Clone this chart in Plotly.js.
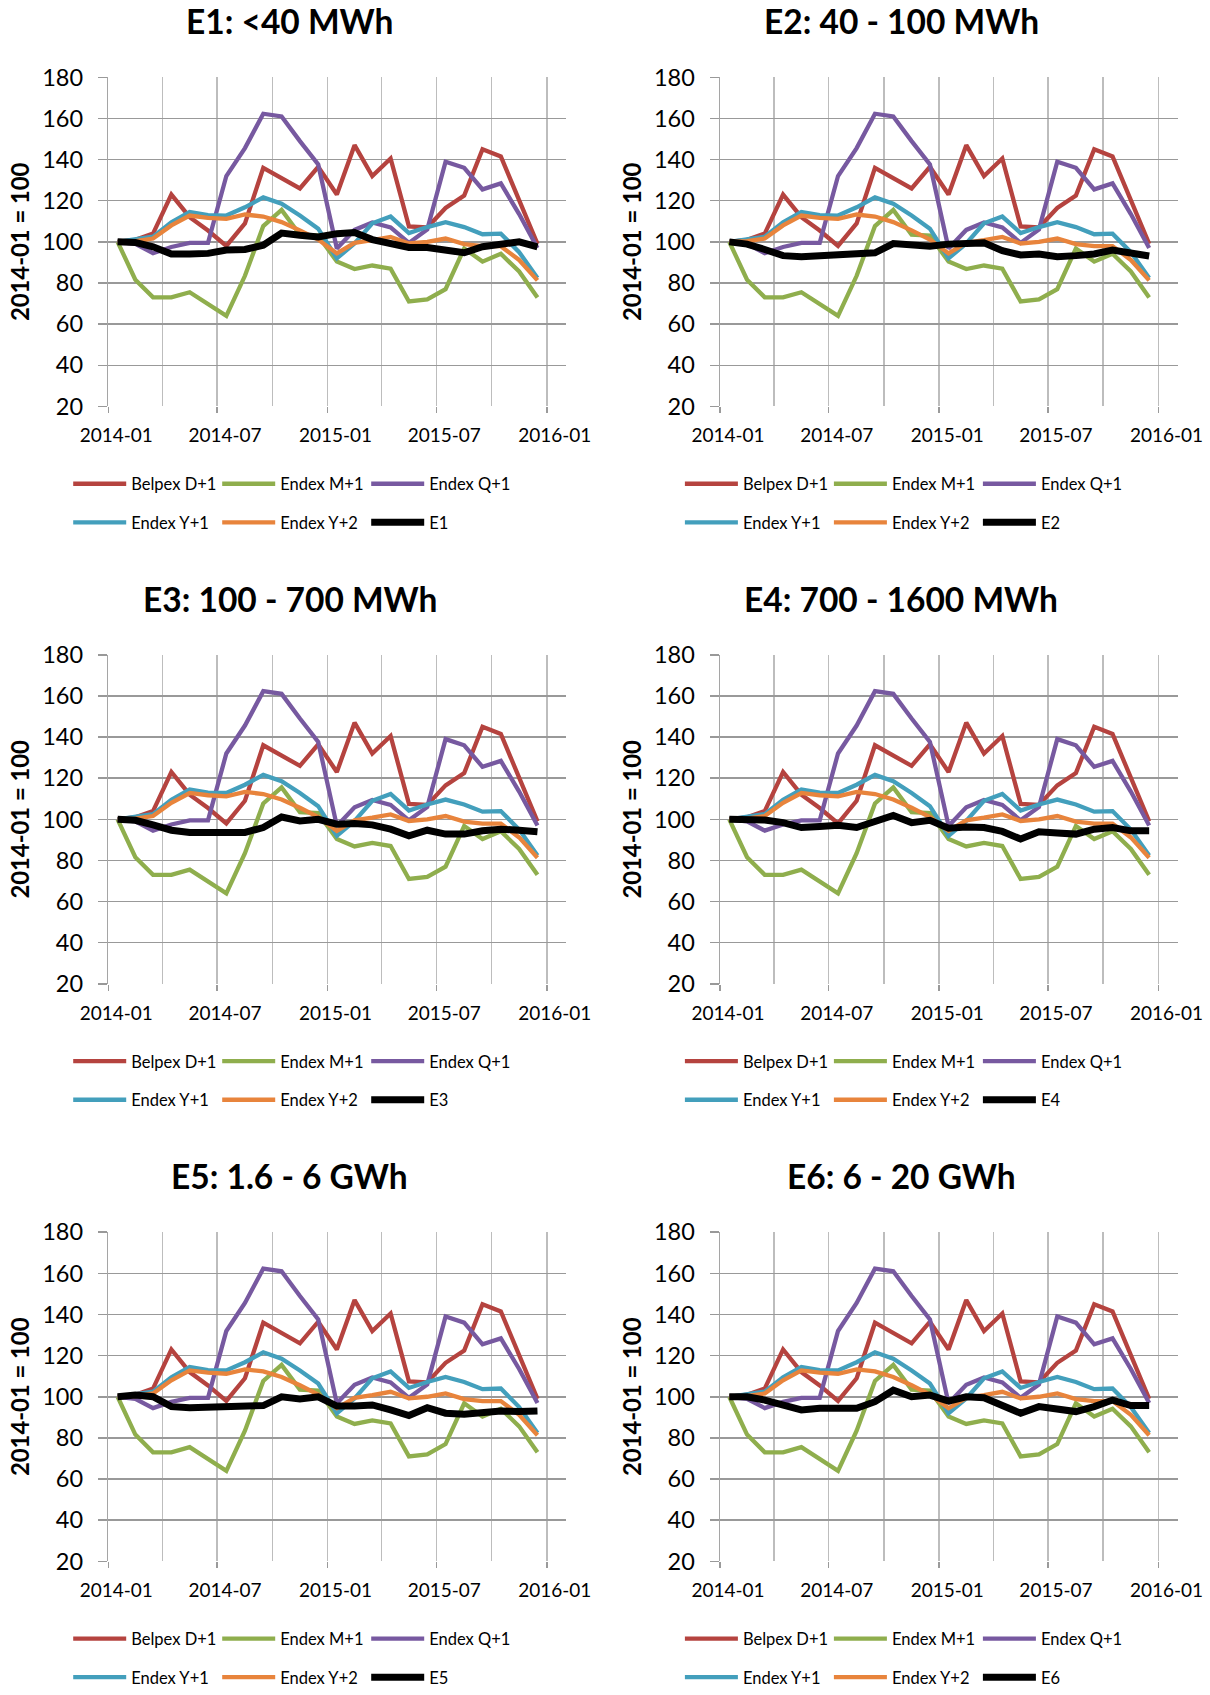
<!DOCTYPE html>
<html><head><meta charset="utf-8">
<script src="https://cdn.plot.ly/plotly-3.0.1.min.js"></script>
<style>html,body{margin:0;padding:0;background:#fff}#chart{width:1210px;height:1695px}</style>
</head><body><div id="chart"></div>
<script>
// ---- data ----
const months = ["2014-01","2014-02","2014-03","2014-04","2014-05","2014-06","2014-07","2014-08","2014-09","2014-10","2014-11","2014-12",
                "2015-01","2015-02","2015-03","2015-04","2015-05","2015-06","2015-07","2015-08","2015-09","2015-10","2015-11","2015-12"];
const belpexD1 = [100,101,104,123,112,105.5,98,109,136,131,126,136.5,123,147,132,140.5,107.5,107,116.5,122.5,145,141.5,120.5,99];
const endexM1  = [100,81.6,73,73,75.5,69.5,64,83.5,107.7,115.5,103.5,103,90.4,86.8,88.5,87,71,72,77,96.8,90.4,94.2,85.6,73];
const endexQ1  = [100,99,94.5,97.5,99.5,99.5,132,145.6,162.3,161,149,137.6,96.8,105.8,109.4,107,99.5,106,139,136,125.5,128.4,113.5,97];
const endexY1  = [100,101,102.5,109.5,114.5,113,112.8,116.8,121.6,118.5,112.8,106.4,92,99.2,109,112.3,104.3,107.2,109.6,107.2,103.7,104,95,82.4];
const endexY2  = [100,100.3,101.6,108,112.8,111.7,111.2,113.3,112.3,109.6,105.6,101.1,94.4,99.5,100.8,102.4,99.2,100,101.6,98.9,97.9,97.9,91.2,81.3];
const segE1 = [100,99.7,97.6,94.1,94.1,94.4,96,96.3,98.4,104.3,103.2,102.4,104,104.5,101.1,98.9,97.3,97.3,96,94.7,97.6,99.2,100,97.6];
const segE2 = [100,98.9,96.3,93.3,92.8,93.1,93.3,93.8,94.7,99.2,98.4,97.9,98.9,99.5,99.5,95.7,93.6,94.1,92.8,93.3,94.1,96,94.9,93.1];
const segE3 = [100,99.5,97.3,94.7,93.6,93.6,94.1,93.6,96,101.1,99.2,100,97.6,97.9,97.3,95.2,92,94.7,92.8,92.8,94.4,95.2,94.7,93.9];
const segE4 = [100,100,99.7,98.4,96,96.5,97.1,96,98.9,101.9,98.4,99.5,95.7,96.3,96,94.1,90.4,93.9,93.3,92.8,95.2,96,94.4,94.4];
const segE5 = [100,100.8,100,95.2,94.7,94.9,95.2,94.7,95.7,100,98.9,100,95.5,95.5,96,93.6,90.9,94.7,92,91.5,92.5,93.1,92.8,93.1];
const segE6 = [100,100,98.4,96,93.6,94.4,94.7,94.4,97.6,103.2,100,100.8,97.9,100,99.5,95.7,92,95.2,93.6,92.8,95.2,98.4,95.7,95.7];

const seriesNames = ["Belpex D+1","Endex M+1","Endex Q+1","Endex Y+1","Endex Y+2"];
const seriesValues = [belpexD1, endexM1, endexQ1, endexY1, endexY2];
const seriesColors = ["#B5433F","#8FAE4D","#7759A0","#439FBC","#E8843C"];
const segmentNames = ["E1","E2","E3","E4","E5","E6"];
const segmentValues = [segE1, segE2, segE3, segE4, segE5, segE6];
const chartTitles = ["E1: &lt;40 MWh","E2: 40 - 100 MWh","E3: 100 - 700 MWh","E4: 700 - 1600 MWh","E5: 1.6 - 6 GWh","E6: 6 - 20 GWh"];
const yAxisTitle = "2014-01 = 100";
const yTicks = [20,40,60,80,100,120,140,160,180];
const xTickDates = ["2014-01-01","2014-07-01","2015-01-01","2015-07-01","2016-01-01"];
const xTickLabels = ["2014-01","2014-07","2015-01","2015-07","2016-01"];

// ---- layout geometry (px) ----
const W = 1210, H = 1695;
const colX0 = [108.3, 720];
const plotW = 457.7;
const rowStep = 584;
const rowTop = [78.2, 78.2 + rowStep, 78.2 + 2 * rowStep];
const plotH = 332.8;
const FONT = "Lato, 'Open Sans', sans-serif";

const data = [];
const layout = {
  width: W, height: H, margin: {l:0, r:0, t:0, b:0},
  paper_bgcolor: "#fff", plot_bgcolor: "#fff",
  font: {family: FONT, color: "#000"},
  showlegend: true,
  annotations: []
};

for (let k = 0; k < 6; k++) {
  const r = Math.floor(k / 2), c = k % 2;
  const ax = k === 0 ? "" : String(k + 1);
  const legA = "legend" + (2*k === 0 ? "" : String(2*k + 1));
  const legB = "legend" + String(2*k + 2);
  seriesNames.forEach((nm, i) => {
    data.push({
      type: "scatter", mode: "lines", name: nm,
      x: months, y: seriesValues[i], xperiod: "M1", xperiodalignment: "middle",
      xaxis: "x" + ax, yaxis: "y" + ax,
      line: {color: seriesColors[i], width: 4.3},
      legend: i < 3 ? legA : legB, hoverinfo: "skip"
    });
  });
  data.push({
    type: "scatter", mode: "lines", name: segmentNames[k],
    x: months, y: segmentValues[k], xperiod: "M1", xperiodalignment: "middle",
    xaxis: "x" + ax, yaxis: "y" + ax,
    line: {color: "#000", width: 7},
    legend: legB, hoverinfo: "skip"
  });

  const x0 = colX0[c], top = rowTop[r];
  layout["xaxis" + ax] = {
    domain: [x0 / W, (x0 + plotW) / W],
    anchor: "y" + ax,
    type: "date",
    range: ["2014-01-01", "2016-02-02"],
    tickmode: "array", tickvals: xTickDates, ticktext: xTickLabels,
    ticks: "outside", ticklen: 6, tickcolor: "#9A9A9A", tickwidth: 1.5,
    ticklabelposition: "outside", ticklabelshift: 8, ticklabelstandoff: 6,
    tickfont: {family: FONT, size: 19, color: "#000"},
    showgrid: true, gridcolor: "#BDBDBD", gridwidth: 1.5,
    minor: {dtick: "M3", tick0: "2014-01-01", showgrid: true, gridcolor: "#BDBDBD", gridwidth: 1.5, ticks: ""},
    showline: false, zeroline: false, fixedrange: true
  };
  layout["yaxis" + ax] = {
    domain: [1 - (top + plotH) / H, 1 - top / H],
    anchor: "x" + ax,
    range: [20, 180],
    tickmode: "array", tickvals: yTicks,
    ticks: "outside", ticklen: 9, tickcolor: "#999999", tickwidth: 1.5,
    ticklabelposition: "outside", ticklabelstandoff: 10,
    tickfont: {family: FONT, size: 23.5, color: "#000"},
    showgrid: true, gridcolor: "#999999", gridwidth: 1.5,
    showline: true, linecolor: "#A5A5A5", linewidth: 1.5,
    zeroline: false, fixedrange: true,
    title: {text: "<b>" + yAxisTitle + "</b>", font: {family: FONT, size: 23.8, color: "#000"}, standoff: 5.2}
  };
  layout.annotations.push({
    text: "<b>" + chartTitles[k] + "</b>", showarrow: false,
    xref: "paper", yref: "paper",
    x: (289.5 + 611.7 * c) / W, y: 1 - (21.6 + rowStep * r) / H,
    xanchor: "center", yanchor: "middle",
    font: {family: FONT, size: 33.5, color: "#000"}
  });
  const legBase = {
    orientation: "h", xanchor: "left", yanchor: "middle",
    font: {family: FONT, size: 16.5, color: "#000"},
    itemwidth: 53, entrywidth: 81, entrywidthmode: "pixels",
    bgcolor: "rgba(0,0,0,0)", borderwidth: 0, tracegroupgap: 0
  };
  const lx = (68.2 + 611.7 * c) / W;
  layout[legA] = Object.assign({}, legBase, {x: lx, y: 1 - (489.5 + rowStep * r) / H});
  layout[legB] = Object.assign({}, legBase, {x: lx, y: 1 - (528.5 + rowStep * r) / H});
}

Plotly.newPlot("chart", data, layout, {staticPlot: true, displayModeBar: false});
</script>
</body></html>
